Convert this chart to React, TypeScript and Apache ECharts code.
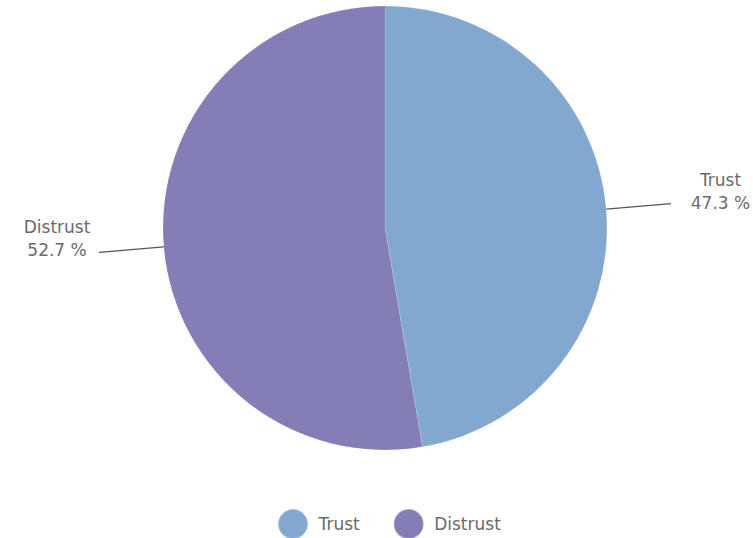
import React, { useEffect, useRef } from "react";
import * as echarts from "echarts";

const categories = ["Trust", "Distrust"];
const values = [47.3, 52.7];
const colors = ["#82a8d0", "#857db5"];
const labelPads = [
  [0, 0, 24, 12],
  [0, 6, 28, 0],
];

export default function App() {
  const ref = useRef<HTMLDivElement>(null);
  useEffect(() => {
    const chart = echarts.init(ref.current!, null, { renderer: "svg" });
    chart.setOption({
      animation: false,
      color: colors,
      legend: {
        top: 503,
        left: 272,
        icon: "circle",
        itemWidth: 41,
        itemHeight: 30,
        itemGap: 33,
        textStyle: { fontFamily: "DejaVu Sans", fontSize: 17, color: "#6a6a6a" },
        data: categories,
      },
      series: [
        {
          type: "pie",
          center: [385, 228],
          radius: 222,
          startAngle: 90,
          data: categories.map((c, i) => ({
            name: c,
            value: values[i],
            label: { padding: labelPads[i] },
          })),
          itemStyle: { borderColor: "rgba(255,255,255,0.3)", borderWidth: 0.5 },
          label: {
            formatter: (p: any) => `{a|${p.name}}\n{a|${p.value} %}`,
            color: "#6a6a6a",
            fontFamily: "DejaVu Sans",
            fontSize: 17,
            lineHeight: 23,
            distanceToLabelLine: 5,
            bleedMargin: 0,
            overflow: "none",
            rich: {
              a: { width: 62, align: "center", fontFamily: "DejaVu Sans", fontSize: 17, color: "#6a6a6a", lineHeight: 23 },
            },
          },
          labelLine: {
            length: 65,
            length2: 0,
            lineStyle: { color: "#555", width: 1.3 },
          },
        },
      ],
    });
    return () => chart.dispose();
  }, []);
  return <div ref={ref} style={{ position: "absolute", left: 0, top: 0, width: 753, height: 538 }} />;
}
